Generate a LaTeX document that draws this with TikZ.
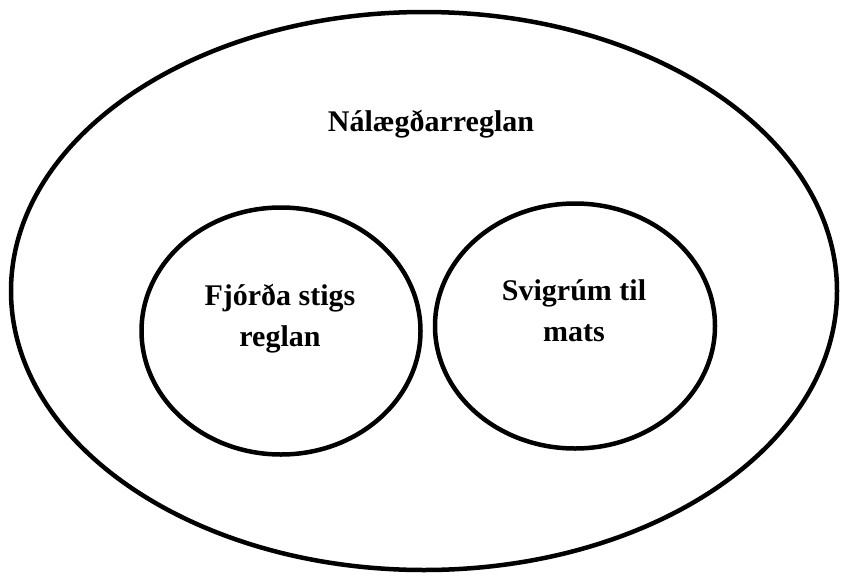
\documentclass[tikz,border=0pt]{standalone}
\usepackage{fontspec}
\setmainfont{Liberation Serif}
\usetikzlibrary{shapes.geometric}
\begin{document}
\begin{tikzpicture}[x=1pt,y=-1pt,
  ring/.style={draw=black,line width=4.5pt,ellipse,inner sep=0pt},
  lbl/.style={font=\fontsize{30}{41}\selectfont\bfseries,align=center,inner sep=0pt}]
\useasboundingbox (0,0) rectangle (841,576);
\node[ring,minimum width=826pt,minimum height=558pt] (outer) at (424,291) {};
\node[ring,minimum width=279pt,minimum height=247pt] (left) at (281,331) {};
\node[ring,minimum width=280pt,minimum height=245pt] (right) at (575,326) {};
\node[lbl,anchor=base] (t0) at (431,131) {Nálægðarreglan};
\node[lbl,anchor=base] (t1) at (280,346) {Fjórða stigs\\reglan};
\node[lbl,anchor=base] (t2) at (574,341) {Svigrúm til\\mats};
\end{tikzpicture}
\end{document}
